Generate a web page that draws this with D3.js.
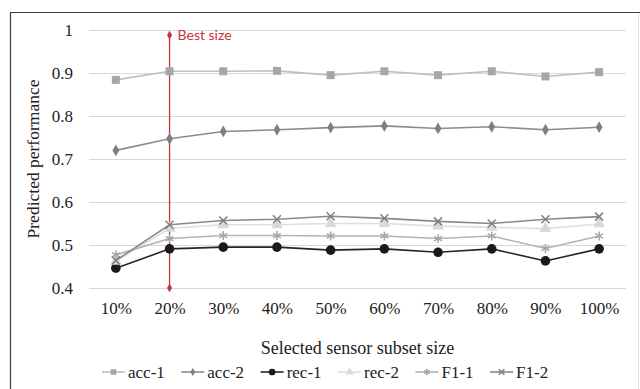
<!DOCTYPE html>
<html><head><meta charset="utf-8">
<script src="https://cdn.jsdelivr.net/npm/d3@7"></script>
<style>body{margin:0;background:#fff}svg{display:block}
.serif{font-family:"Liberation Serif","Times New Roman",Tinos,serif;}
</style>
</head><body>
<svg id="c" width="640" height="389"></svg>
<script>
const categories = ["10%","20%","30%","40%","50%","60%","70%","80%","90%","100%"];
const acc1 = [0.884,0.904,0.904,0.905,0.895,0.904,0.895,0.904,0.892,0.902];
const acc2 = [0.720,0.747,0.764,0.768,0.773,0.777,0.771,0.775,0.768,0.774];
const rec1 = [0.446,0.491,0.495,0.495,0.488,0.491,0.483,0.491,0.463,0.491];
const rec2 = [0.462,0.539,0.547,0.547,0.550,0.550,0.544,0.541,0.538,0.549];
const f11  = [0.477,0.515,0.522,0.522,0.521,0.521,0.515,0.521,0.492,0.521];
const f12  = [0.464,0.547,0.557,0.560,0.567,0.562,0.555,0.550,0.560,0.566];
const seriesNames = ["acc-1","acc-2","rec-1","rec-2","F1-1","F1-2"];
const yTicks = [0.4,0.5,0.6,0.7,0.8,0.9,1];
const bestSize = {cat:"20%", from:0.4, to:0.988, label:"Best size"};

const svg = d3.select("#c");
const x = d3.scalePoint().domain(categories).range([89,626]).padding(0.5);
const y = d3.scaleLinear().domain([0.4,1]).range([288,30]);

svg.append("line").attr("x1",10.5).attr("x2",10.5).attr("y1",12).attr("y2",389).attr("stroke","#404040").attr("stroke-width",1.2);
svg.append("line").attr("x1",10).attr("x2",640).attr("y1",12.5).attr("y2",12.5).attr("stroke","#404040").attr("stroke-width",1.2);
svg.append("line").attr("x1",638.5).attr("x2",638.5).attr("y1",13).attr("y2",389).attr("stroke","#e0e0e0").attr("stroke-width",1);

const yAxis = d3.axisLeft(y).tickValues(yTicks).tickSize(-(626-89)).tickFormat(d=> d===1 ? "1" : d3.format(".1f")(d));
const gy = svg.append("g").attr("transform","translate(89,0)").call(yAxis).attr("font-family",null);
gy.select(".domain").remove();
gy.selectAll(".tick line").attr("stroke","#d9d9d9").attr("stroke-width",1.2);
gy.selectAll(".tick text").attr("x",-16).attr("class","serif").style("font-size","17px").attr("fill","#222");

const xAxis = d3.axisBottom(x).tickSize(0);
const gx = svg.append("g").attr("transform","translate(0,288)").call(xAxis).attr("font-family",null);
gx.select(".domain").remove();
gx.selectAll(".tick text").attr("y",26).attr("dy",0).attr("class","serif").style("font-size","17px").attr("fill","#222");

svg.append("text").attr("transform","translate(39,159) rotate(-90)").attr("text-anchor","middle")
  .attr("class","serif").style("font-size","17.5px").attr("fill","#222").text("Predicted performance");
svg.append("text").attr("x",357.5).attr("y",354).attr("text-anchor","middle")
  .attr("class","serif").style("font-size","18px").attr("fill","#222").text("Selected sensor subset size");

const red = "#c8323a";
svg.append("line").attr("x1",x(bestSize.cat)).attr("x2",x(bestSize.cat)).attr("y1",y(bestSize.from)).attr("y2",y(bestSize.to))
  .attr("stroke",red).attr("stroke-width",1.3);
[bestSize.from,bestSize.to].forEach(v=>{
  svg.append("path").attr("d",d3.symbol(d3.symbolDiamond,22)()).attr("transform",`translate(${x(bestSize.cat)},${y(v)})`).attr("fill",red);
});
svg.append("text").attr("x",x(bestSize.cat)+8).attr("y",y(bestSize.to)+5).style("font-family","Lato,'Open Sans',sans-serif")
  .style("font-size","14px").attr("fill",red).text(bestSize.label);

function asteriskPath(s){const r=s/2,a=r*0.87;return `M${-a},${-r/2}L${a},${r/2}M${-a},${r/2}L${a},${-r/2}M0,${-r}L0,${r}`;}
function timesPath(s){const r=s/2;return `M${-r},${-r}L${r},${r}M${-r},${r}L${r},${-r}`;}
const series = [
  {name:seriesNames[0], vals:acc1, line:"#bfbfbf", mark:"#a6a6a6", type:"square"},
  {name:seriesNames[1], vals:acc2, line:"#8c8c8c", mark:"#7f7f7f", type:"diamond"},
  {name:seriesNames[2], vals:rec1, line:"#262626", mark:"#1a1a1a", type:"circle"},
  {name:seriesNames[3], vals:rec2, line:"#dedede", mark:"#d9d9d9", type:"triangle"},
  {name:seriesNames[4], vals:f11, line:"#b3b3b3", mark:"#a6a6a6", type:"asterisk"},
  {name:seriesNames[5], vals:f12, line:"#8a8a8a", mark:"#7f7f7f", type:"times"},
];
function drawMarker(g, type, color, scale){
  if(type==="square") g.append("path").attr("d",d3.symbol(d3.symbolSquare,64*scale*scale)()).attr("fill",color);
  else if(type==="diamond") g.append("path").attr("d",d3.symbol(d3.symbolDiamond,40*scale*scale)()).attr("fill",color);
  else if(type==="circle") g.append("path").attr("d",d3.symbol(d3.symbolCircle,72*scale*scale)()).attr("fill",color);
  else if(type==="triangle") g.append("path").attr("d",d3.symbol(d3.symbolTriangle,60*scale*scale)()).attr("fill",color);
  else if(type==="asterisk") g.append("path").attr("d",asteriskPath(9*scale)).attr("stroke",color).attr("stroke-width",1.5).attr("fill","none");
  else if(type==="times") g.append("path").attr("d",timesPath(8*scale)).attr("stroke",color).attr("stroke-width",1.5).attr("fill","none");
}
const line = d3.line().x((d,i)=>x(categories[i])).y(d=>y(d));
series.forEach(s=>{
  svg.append("path").datum(s.vals).attr("d",line).attr("fill","none").attr("stroke",s.line).attr("stroke-width",1.6);
  s.vals.forEach((v,i)=>{
    const g = svg.append("g").attr("transform",`translate(${x(categories[i])},${y(v)})`);
    drawMarker(g,s.type,s.mark,1);
  });
});

let lx = 102; const ly = 372;
series.forEach(s=>{
  const g = svg.append("g").attr("transform",`translate(${lx},${ly})`);
  g.append("line").attr("x1",0).attr("x2",23).attr("y1",0).attr("y2",0).attr("stroke",s.line).attr("stroke-width",1.6);
  const m = g.append("g").attr("transform","translate(11.5,0)");
  drawMarker(m,s.type,s.mark,0.7);
  const t = g.append("text").attr("x",26).attr("y",5.5).attr("class","serif").style("font-size","17px").attr("fill","#222").text(s.name);
  lx += 26 + t.node().getComputedTextLength() + 16.5;
});
</script>
</body></html>
